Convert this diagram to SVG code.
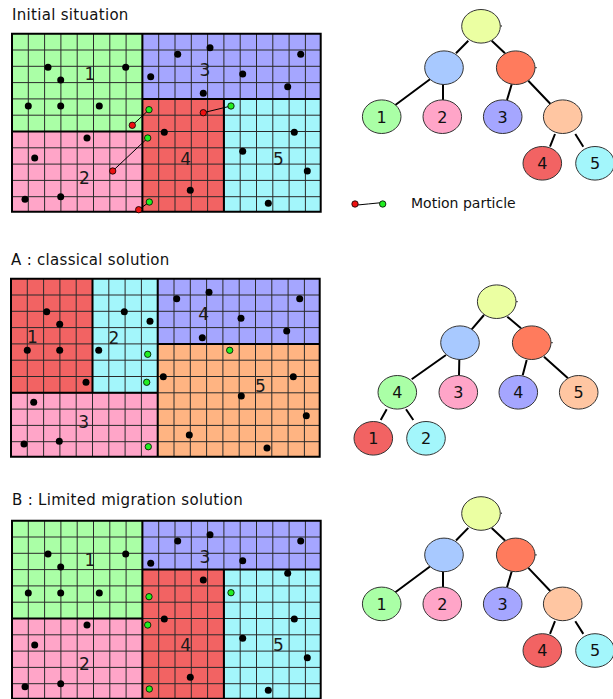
<svg xmlns="http://www.w3.org/2000/svg" xmlns:xlink="http://www.w3.org/1999/xlink" width="613" height="699" viewBox="0 0 613 699">
  <style>
    .title { font-family: "DejaVu Sans", "Liberation Sans", sans-serif; font-size: 15px; letter-spacing: 0.3px; fill: #111; }
    .leg { font-family: "DejaVu Sans", "Liberation Sans", sans-serif; font-size: 14px; fill: #111; }
    .reg { font-family: "DejaVu Sans", "Liberation Sans", sans-serif; font-size: 17px; fill: #1a1a1a; text-anchor: middle; }
    .tl { font-family: "DejaVu Sans", "Liberation Sans", sans-serif; font-size: 16px; fill: #111; text-anchor: middle; }
    .thin { fill: none; stroke: #2a2a2a; stroke-width: 1; }
    .bord { fill: none; stroke: #000; stroke-width: 2; }
    .dot { fill: #000; }
    .pr { fill: #ee1111; stroke: #000; stroke-width: 0.8; }
    .pg { fill: #22ee22; stroke: #000; stroke-width: 0.8; }
    .mv { stroke: #000; stroke-width: 1; fill: none; }
    .edge { stroke: #000; stroke-width: 2; fill: none; }
    .nd { stroke: #333; stroke-width: 1; }
    .g1 { fill: #aaffa6; }
    .c2 { fill: #ffa5c8; }
    .p3 { fill: #a5a6ff; }
    .r4 { fill: #f26363; }
    .c5 { fill: #a3f6fb; }
    .o5 { fill: #ffb482; }
    .root { fill: #ebffa2; }
    .blue { fill: #a8c9ff; }
    .sal { fill: #ff7b5d; }
    .peach { fill: #ffc6a2; }
  </style>
  <defs>
    <!-- thin cell lines of the 19 x 11 grid -->
    <path id="cells" class="thin" d="M16.3 0V178M32.6 0V178M48.9 0V178M65.2 0V178M81.5 0V178M97.8 0V178M114.1 0V178M130.4 0V178M146.7 0V178M163 0V178M179.3 0V178M195.6 0V178M211.9 0V178M228.2 0V178M244.5 0V178M260.8 0V178M277.1 0V178M293.4 0V178M0 16.3H308.7M0 32.6H308.7M0 48.9H308.7M0 65.2H308.7M0 81.5H308.7M0 97.8H308.7M0 114.1H308.7M0 130.4H308.7M0 146.7H308.7M0 163H308.7"/>
  </defs>

  <rect width="613" height="699" fill="#fff"/>

  <!-- titles -->
  <text class="title" x="12" y="19.5">Initial situation</text>
  <text class="title" x="11" y="264.5">A : classical solution</text>
  <text class="title" x="12" y="504.5">B : Limited migration solution</text>

  <!-- ===== initial grid ===== -->
  <g id="grid-initial" transform="translate(12,33.7)">
    <rect class="g1" x="0" y="0" width="130.4" height="97.8"/>
    <rect class="p3" x="130.4" y="0" width="178.3" height="65.2"/>
    <rect class="c2" x="0" y="97.8" width="130.4" height="80.2"/>
    <rect class="r4" x="130.4" y="65.2" width="81.5" height="112.8"/>
    <rect class="c5" x="211.9" y="65.2" width="96.8" height="112.8"/>
    <use xlink:href="#cells"/>
    <path class="bord" d="M0 0H308.7V178H0Z M130.4 0V178 M0 97.8H130.4 M130.4 65.2H308.7 M211.9 65.2V178"/>
  </g>
  <g id="labels-initial">
    <text class="reg" x="90" y="80.2">1</text>
    <text class="reg" x="205" y="76.2">3</text>
    <text class="reg" x="84.3" y="183.9">2</text>
    <text class="reg" x="185.7" y="165.2">4</text>
    <text class="reg" x="278.3" y="165.2">5</text>
  </g>
  <g id="particles-initial">
    <circle class="dot" cx="48" cy="67.3" r="3.5"/>
    <circle class="dot" cx="60.7" cy="80" r="3.5"/>
    <circle class="dot" cx="125.7" cy="67.3" r="3.5"/>
    <circle class="dot" cx="28.3" cy="106" r="3.5"/>
    <circle class="dot" cx="60.7" cy="106" r="3.5"/>
    <circle class="dot" cx="99.3" cy="106" r="3.5"/>
    <circle class="dot" cx="177.7" cy="54.3" r="3.5"/>
    <circle class="dot" cx="210" cy="47.7" r="3.5"/>
    <circle class="dot" cx="150.7" cy="76.7" r="3.5"/>
    <circle class="dot" cx="203.3" cy="93.3" r="3.5"/>
    <circle class="dot" cx="242.7" cy="74" r="3.5"/>
    <circle class="dot" cx="300.7" cy="54.3" r="3.5"/>
    <circle class="dot" cx="287.7" cy="86.7" r="3.5"/>
    <circle class="dot" cx="87" cy="138" r="3.5"/>
    <circle class="dot" cx="34.7" cy="158" r="3.5"/>
    <circle class="dot" cx="60.7" cy="196.7" r="3.5"/>
    <circle class="dot" cx="25" cy="199.3" r="3.5"/>
    <circle class="dot" cx="164.3" cy="132.3" r="3.5"/>
    <circle class="dot" cx="190.3" cy="190.3" r="3.5"/>
    <circle class="dot" cx="294.3" cy="132.3" r="3.5"/>
    <circle class="dot" cx="242.7" cy="151.3" r="3.5"/>
    <circle class="dot" cx="307.3" cy="171" r="3.5"/>
    <circle class="dot" cx="268.3" cy="203.3" r="3.5"/>
  </g>
  <g id="moves-initial">
    <path class="mv" d="M132.3 125.3L149 109.7M112.7 171L147.7 138M203.3 112.7L231 106M138.7 209.7L149.3 202"/>
    <circle class="pr" cx="132.3" cy="125.3" r="3.2"/>
    <circle class="pg" cx="149" cy="109.7" r="3.2"/>
    <circle class="pr" cx="112.7" cy="171" r="3.2"/>
    <circle class="pg" cx="147.7" cy="138" r="3.2"/>
    <circle class="pr" cx="203.3" cy="112.7" r="3.2"/>
    <circle class="pg" cx="231" cy="106" r="3.2"/>
    <circle class="pr" cx="138.7" cy="209.7" r="3.2"/>
    <circle class="pg" cx="149.3" cy="202" r="3.2"/>
  </g>

  <!-- legend -->
  <g id="legend">
    <path class="mv" d="M357.5 205Q368 204 380 202.8"/>
    <circle class="pr" cx="355" cy="204" r="3.2"/>
    <circle class="pg" cx="382.7" cy="204" r="3.2"/>
    <text class="leg" x="411" y="207.5">Motion particle</text>
  </g>

  <!-- ===== classical solution grid ===== -->
  <g id="grid-classical" transform="translate(11,278.7)">
    <rect class="r4" x="0" y="0" width="81.5" height="114.1"/>
    <rect class="c5" x="81.5" y="0" width="65.2" height="114.1"/>
    <rect class="p3" x="146.7" y="0" width="162" height="65.2"/>
    <rect class="c2" x="0" y="114.1" width="146.7" height="63.9"/>
    <rect class="o5" x="146.7" y="65.2" width="162" height="112.8"/>
    <use xlink:href="#cells"/>
    <path class="bord" d="M0 0H308.7V178H0Z M81.5 0V114.1 M0 114.1H146.7 M146.7 0V178 M146.7 65.2H308.7"/>
  </g>
  <g id="labels-classical">
    <text class="reg" x="32.3" y="342.9">1</text>
    <text class="reg" x="114" y="343.5">2</text>
    <text class="reg" x="203.7" y="319.5">4</text>
    <text class="reg" x="260.3" y="391.5">5</text>
    <text class="reg" x="83.7" y="428.2">3</text>
  </g>
  <g id="particles-classical">
    <circle class="dot" cx="46.7" cy="311.7" r="3.5"/>
    <circle class="dot" cx="59.7" cy="324.3" r="3.5"/>
    <circle class="dot" cx="27.3" cy="350.3" r="3.5"/>
    <circle class="dot" cx="59.7" cy="350.3" r="3.5"/>
    <circle class="dot" cx="86" cy="382.3" r="3.5"/>
    <circle class="dot" cx="124.3" cy="311.7" r="3.5"/>
    <circle class="dot" cx="150" cy="321.3" r="3.5"/>
    <circle class="dot" cx="98.7" cy="350.3" r="3.5"/>
    <circle class="dot" cx="176.7" cy="298.7" r="3.5"/>
    <circle class="dot" cx="209" cy="292.3" r="3.5"/>
    <circle class="dot" cx="241" cy="318.3" r="3.5"/>
    <circle class="dot" cx="299.7" cy="298.7" r="3.5"/>
    <circle class="dot" cx="286.7" cy="331" r="3.5"/>
    <circle class="dot" cx="202.3" cy="337.7" r="3.5"/>
    <circle class="dot" cx="163.3" cy="376.7" r="3.5"/>
    <circle class="dot" cx="293.3" cy="376.7" r="3.5"/>
    <circle class="dot" cx="241.3" cy="396" r="3.5"/>
    <circle class="dot" cx="306.3" cy="415.7" r="3.5"/>
    <circle class="dot" cx="189.3" cy="435" r="3.5"/>
    <circle class="dot" cx="267" cy="448" r="3.5"/>
    <circle class="dot" cx="33.7" cy="402.3" r="3.5"/>
    <circle class="dot" cx="59.3" cy="441.3" r="3.5"/>
    <circle class="dot" cx="24" cy="444" r="3.5"/>
    <circle class="pg" cx="147.7" cy="354.3" r="3.2"/>
    <circle class="pg" cx="146.7" cy="382.3" r="3.2"/>
    <circle class="pg" cx="229.7" cy="350.3" r="3.2"/>
    <circle class="pg" cx="148.3" cy="446.7" r="3.2"/>
  </g>

  <!-- ===== limited migration grid ===== -->
  <g id="grid-limited" transform="translate(12,520.7)">
    <rect class="g1" x="0" y="0" width="130.4" height="97.8"/>
    <rect class="p3" x="130.4" y="0" width="178.3" height="48.9"/>
    <rect class="r4" x="130.4" y="48.9" width="81.5" height="129.1"/>
    <rect class="c5" x="211.9" y="48.9" width="96.8" height="129.1"/>
    <rect class="c2" x="0" y="97.8" width="130.4" height="80.2"/>
    <use xlink:href="#cells"/>
    <path class="bord" d="M0 0H308.7V178H0Z M130.4 0V178 M0 97.8H130.4 M130.4 48.9H308.7 M211.9 48.9V178"/>
  </g>
  <g id="labels-limited">
    <text class="reg" x="90" y="566.2">1</text>
    <text class="reg" x="205" y="562.9">3</text>
    <text class="reg" x="185.7" y="651.2">4</text>
    <text class="reg" x="278.3" y="651.2">5</text>
    <text class="reg" x="84.3" y="670.2">2</text>
  </g>
  <g id="particles-limited">
    <circle class="dot" cx="48" cy="554" r="3.5"/>
    <circle class="dot" cx="60.7" cy="567" r="3.5"/>
    <circle class="dot" cx="125.7" cy="554" r="3.5"/>
    <circle class="dot" cx="28.3" cy="593" r="3.5"/>
    <circle class="dot" cx="60.7" cy="593" r="3.5"/>
    <circle class="dot" cx="99.3" cy="593" r="3.5"/>
    <circle class="dot" cx="177.7" cy="541" r="3.5"/>
    <circle class="dot" cx="210" cy="534.7" r="3.5"/>
    <circle class="dot" cx="150.7" cy="563.3" r="3.5"/>
    <circle class="dot" cx="242.7" cy="560.7" r="3.5"/>
    <circle class="dot" cx="300.7" cy="541" r="3.5"/>
    <circle class="dot" cx="287.7" cy="573.3" r="3.5"/>
    <circle class="dot" cx="203.3" cy="580" r="3.5"/>
    <circle class="dot" cx="164.3" cy="619" r="3.5"/>
    <circle class="dot" cx="87" cy="625" r="3.5"/>
    <circle class="dot" cx="34.7" cy="645" r="3.5"/>
    <circle class="dot" cx="60.7" cy="683.7" r="3.5"/>
    <circle class="dot" cx="25" cy="686.7" r="3.5"/>
    <circle class="dot" cx="190.3" cy="677.3" r="3.5"/>
    <circle class="dot" cx="294.3" cy="619" r="3.5"/>
    <circle class="dot" cx="242.7" cy="638.3" r="3.5"/>
    <circle class="dot" cx="307.3" cy="657.7" r="3.5"/>
    <circle class="dot" cx="268.3" cy="690.3" r="3.5"/>
    <circle class="pg" cx="149" cy="596.7" r="3.2"/>
    <circle class="pg" cx="231" cy="592.7" r="3.2"/>
    <circle class="pg" cx="147.7" cy="625" r="3.2"/>
    <circle class="pg" cx="149.3" cy="689" r="3.2"/>
  </g>

  <!-- ===== tree: initial ===== -->
  <g id="tree-initial-edges">
    <path class="edge" d="M468.3 40.7L456 53.3M491.7 40.7L505 53.3M430 79.3L395 105.3M443 84.3V100M511.7 84.3L507 100M528.3 80.7L551.7 105.3M555 134L550 146.7M575.3 134L583.3 146.7"/>
    <path class="mv" d="M500.5 26H502M535.2 67.7H536.7"/>
  </g>
  <g id="t1-root"><ellipse class="nd root" cx="481" cy="26.3" rx="19.3" ry="16.8"/></g>
  <g id="t1-left"><ellipse class="nd blue" cx="444" cy="67.7" rx="19.3" ry="16.8"/></g>
  <g id="t1-right"><ellipse class="nd sal" cx="515.7" cy="67.7" rx="19.3" ry="16.8"/></g>
  <g id="t1-n1"><ellipse class="nd g1" cx="381.7" cy="116.7" rx="19.3" ry="16.8"/><text class="tl" x="381.7" y="122.5">1</text></g>
  <g id="t1-n2"><ellipse class="nd c2" cx="442.3" cy="116.7" rx="19.3" ry="16.8"/><text class="tl" x="442.3" y="122.5">2</text></g>
  <g id="t1-n3"><ellipse class="nd p3" cx="502.7" cy="116.7" rx="19.3" ry="16.8"/><text class="tl" x="502.7" y="122.5">3</text></g>
  <g id="t1-mid"><ellipse class="nd peach" cx="562.7" cy="116.7" rx="19.3" ry="16.8"/></g>
  <g id="t1-n4"><ellipse class="nd r4" cx="542.3" cy="163.3" rx="19.3" ry="16.8"/><text class="tl" x="542.3" y="169.1">4</text></g>
  <g id="t1-n5"><ellipse class="nd c5" cx="595" cy="163.3" rx="19.3" ry="16.8"/><text class="tl" x="595" y="169.1">5</text></g>

  <!-- ===== tree: classical ===== -->
  <g id="tree-classical-edges">
    <path class="edge" d="M484 315L471.7 329.3M507.3 316.7L521 328.3M446 355L411.7 379.3M459.3 360L459 375.3M526.7 360L522.7 375.3M544 356.7L568 378.3M386.7 409.3L380.7 420M406 409.3L413.3 420"/>
    <path class="mv" d="M516.2 301.7H517.7M551.2 342.7H552.7"/>
  </g>
  <g id="t2-root"><ellipse class="nd root" cx="496.7" cy="301.7" rx="19.3" ry="16.8"/></g>
  <g id="t2-left"><ellipse class="nd blue" cx="460" cy="342.7" rx="19.3" ry="16.8"/></g>
  <g id="t2-right"><ellipse class="nd sal" cx="531.7" cy="342.7" rx="19.3" ry="16.8"/></g>
  <g id="t2-n4a"><ellipse class="nd g1" cx="397.3" cy="392.3" rx="19.3" ry="16.8"/><text class="tl" x="397.3" y="398.1">4</text></g>
  <g id="t2-n3"><ellipse class="nd c2" cx="458.3" cy="392.3" rx="19.3" ry="16.8"/><text class="tl" x="458.3" y="398.1">3</text></g>
  <g id="t2-n4b"><ellipse class="nd p3" cx="518.3" cy="392.3" rx="19.3" ry="16.8"/><text class="tl" x="518.3" y="398.1">4</text></g>
  <g id="t2-n5"><ellipse class="nd peach" cx="578.7" cy="392.3" rx="19.3" ry="16.8"/><text class="tl" x="578.7" y="398.1">5</text></g>
  <g id="t2-n1"><ellipse class="nd r4" cx="373.3" cy="438.3" rx="19.3" ry="16.8"/><text class="tl" x="373.3" y="444.1">1</text></g>
  <g id="t2-n2"><ellipse class="nd c5" cx="426" cy="438.3" rx="19.3" ry="16.8"/><text class="tl" x="426" y="444.1">2</text></g>

  <!-- ===== tree: limited migration ===== -->
  <g id="tree-limited" transform="translate(0,487.2)">
    <g id="tree-limited-edges">
      <path class="edge" d="M468.3 40.7L456 53.3M491.7 40.7L505 53.3M430 79.3L395 105.3M443 84.3V100M511.7 84.3L507 100M528.3 80.7L551.7 105.3M555 134L550 146.7M575.3 134L583.3 146.7"/>
      <path class="mv" d="M500.5 26H502M535.2 67.7H536.7"/>
    </g>
    <g id="t3-root"><ellipse class="nd root" cx="481" cy="26.3" rx="19.3" ry="16.8"/></g>
    <g id="t3-left"><ellipse class="nd blue" cx="444" cy="67.7" rx="19.3" ry="16.8"/></g>
    <g id="t3-right"><ellipse class="nd sal" cx="515.7" cy="67.7" rx="19.3" ry="16.8"/></g>
    <g id="t3-n1"><ellipse class="nd g1" cx="381.7" cy="116.7" rx="19.3" ry="16.8"/><text class="tl" x="381.7" y="122.5">1</text></g>
    <g id="t3-n2"><ellipse class="nd c2" cx="442.3" cy="116.7" rx="19.3" ry="16.8"/><text class="tl" x="442.3" y="122.5">2</text></g>
    <g id="t3-n3"><ellipse class="nd p3" cx="502.7" cy="116.7" rx="19.3" ry="16.8"/><text class="tl" x="502.7" y="122.5">3</text></g>
    <g id="t3-mid"><ellipse class="nd peach" cx="562.7" cy="116.7" rx="19.3" ry="16.8"/></g>
    <g id="t3-n4"><ellipse class="nd r4" cx="542.3" cy="163.3" rx="19.3" ry="16.8"/><text class="tl" x="542.3" y="169.1">4</text></g>
    <g id="t3-n5"><ellipse class="nd c5" cx="595" cy="163.3" rx="19.3" ry="16.8"/><text class="tl" x="595" y="169.1">5</text></g>
  </g>
</svg>
